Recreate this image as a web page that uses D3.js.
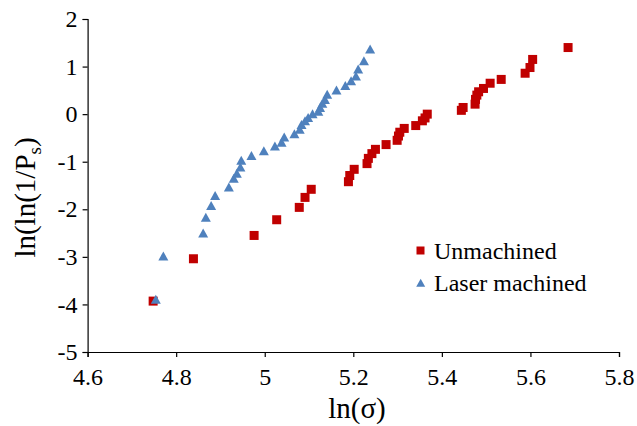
<!DOCTYPE html>
<html>
<head>
<meta charset="utf-8">
<script src="https://cdn.jsdelivr.net/npm/d3@7"></script>
<style>
  html, body { margin: 0; padding: 0; background: #fff; }
  svg { display: block; }
  svg text { font-family: "Liberation Serif", "Times New Roman", serif; fill: #000; }
</style>
</head>
<body>
<svg id="chart" width="637" height="426"></svg>
<script>
// Unmachined (red squares)
const unmachinedX = [4.748, 4.839, 4.976, 5.027, 5.078, 5.091, 5.105, 5.189, 5.192, 5.202,
  5.231, 5.234, 5.242, 5.250, 5.274, 5.299, 5.302, 5.305, 5.315, 5.341, 5.356, 5.362, 5.367,
  5.444, 5.448, 5.475, 5.476, 5.479, 5.483, 5.494, 5.509, 5.534, 5.588, 5.599, 5.605, 5.685];
const unmachinedY = [-3.93, -3.04, -2.55, -2.22, -1.96, -1.75, -1.58, -1.42, -1.29, -1.16,
  -1.04, -0.93, -0.83, -0.74, -0.64, -0.55, -0.46, -0.38, -0.30, -0.24, -0.14, -0.08, 0.00,
  0.08, 0.14, 0.21, 0.31, 0.40, 0.47, 0.54, 0.65, 0.73, 0.86, 0.98, 1.15, 1.40];

// Laser machined (blue triangles)
const laserX = [4.754, 4.771, 4.861, 4.867, 4.879, 4.888, 4.919, 4.930, 4.937, 4.945, 4.947,
  4.970, 4.998, 5.023, 5.038, 5.044, 5.067, 5.079, 5.083, 5.091, 5.098, 5.108, 5.121, 5.125,
  5.130, 5.136, 5.141, 5.162, 5.182, 5.195, 5.206, 5.211, 5.224, 5.238];
const laserY = [-3.89, -2.98, -2.50, -2.17, -1.92, -1.71, -1.53, -1.35, -1.24, -1.11, -0.97,
  -0.87, -0.77, -0.67, -0.59, -0.48, -0.41, -0.32, -0.22, -0.14, -0.07, 0.01, 0.06, 0.14,
  0.23, 0.31, 0.42, 0.51, 0.60, 0.70, 0.80, 0.95, 1.12, 1.37];

const xTicks = [4.6, 4.8, 5.0, 5.2, 5.4, 5.6, 5.8];
const yTicks = [-5, -4, -3, -2, -1, 0, 1, 2];
const seriesNames = ["Unmachined", "Laser machined"];

(function () {
const FONT = '"Liberation Serif", "Times New Roman", serif';
const svg = d3.select("#chart");
const mLeft = 87.6, mRight = 619, mTop = 19, mBottom = 352;

const x = d3.scaleLinear().domain([4.6, 5.8]).range([mLeft, mRight]);
const y = d3.scaleLinear().domain([-5, 2]).range([mBottom, mTop]);

// Axes
const xAxis = svg.append("g").attr("transform", `translate(0,${mBottom})`)
  .call(d3.axisBottom(x).tickValues(xTicks).tickSize(5).tickPadding(11)
    .tickFormat(d => String(+d.toFixed(1))));
const yAxis = svg.append("g").attr("transform", `translate(${mLeft},0)`)
  .call(d3.axisLeft(y).tickValues(yTicks).tickSize(5).tickPadding(5)
    .tickFormat(d => String(d)));

[xAxis, yAxis].forEach(g => {
  g.attr("font-family", FONT);
  g.select(".domain").attr("stroke", "#000").attr("stroke-width", 1.2);
  g.selectAll(".tick line").attr("stroke", "#000").attr("stroke-width", 1.2);
  g.selectAll(".tick text").attr("font-family", FONT).attr("font-size", 24).attr("fill", "#000");
});

const red = "#C00000", blue = "#4F81BD";

// Unmachined squares
svg.append("g").selectAll("rect").data(unmachinedX.map((v, i) => [v, unmachinedY[i]]))
  .join("rect")
  .attr("x", d => x(d[0]) - 4.5).attr("y", d => y(d[1]) - 4.5)
  .attr("width", 9).attr("height", 9).attr("fill", red);

// Laser machined triangles
const tri = (cx, cy, w, h) => `M${cx},${cy - h / 2}L${cx + w / 2},${cy + h / 2}L${cx - w / 2},${cy + h / 2}Z`;
svg.append("g").selectAll("path").data(laserX.map((v, i) => [v, laserY[i]]))
  .join("path")
  .attr("d", d => tri(x(d[0]), y(d[1]), 10, 9))
  .attr("fill", blue);

// Axis titles
svg.append("text").attr("x", 357).attr("y", 418).attr("font-family", FONT)
  .attr("text-anchor", "middle").attr("font-size", 29).text("ln(σ)");

const yt = svg.append("text").attr("font-family", FONT)
  .attr("transform", `translate(35,${(mTop + mBottom) / 2 + 12}) rotate(-90)`)
  .attr("text-anchor", "middle").attr("font-size", 29);
yt.append("tspan").text("ln(ln(1/P");
yt.append("tspan").attr("dy", 6).attr("font-size", 19).text("s");
yt.append("tspan").attr("dy", -6).text(")");

// Legend
const lg = svg.append("g").attr("font-family", FONT);
lg.append("rect").attr("x", 416.5).attr("y", 246.5).attr("width", 8).attr("height", 8).attr("fill", red);
lg.append("path").attr("d", tri(420.7, 282.7, 9, 8)).attr("fill", blue);
lg.append("text").attr("x", 434).attr("y", 259).attr("font-size", 24).text(seriesNames[0]);
lg.append("text").attr("x", 434).attr("y", 291).attr("font-size", 24).text(seriesNames[1]);
})();
</script>
</body>
</html>
